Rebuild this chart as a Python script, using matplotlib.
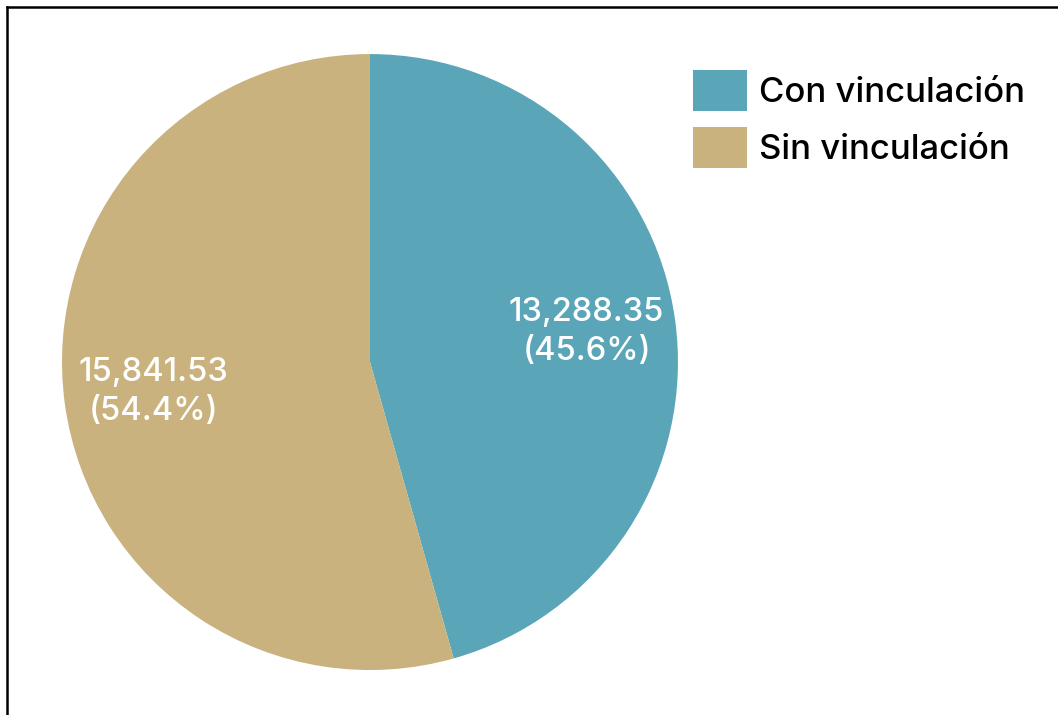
import matplotlib
matplotlib.use("Agg")
import matplotlib.pyplot as plt
from matplotlib.patches import Patch
from matplotlib.lines import Line2D

labels = ["Con vinculación", "Sin vinculación"]
values = [13288.35, 15841.53]
colors = ["#5ba5b8", "#c9b27e"]

plt.rcParams['font.family'] = ['Inter', 'DejaVu Sans']

fig = plt.figure(figsize=(10.58, 7.15), dpi=100)
ax = fig.add_axes([0.0586, 0.0629, 0.5822, 0.8615])

total = sum(values)

def fmt(pct):
    v = pct * total / 100
    return f"{v:,.2f}\n({pct:.1f}%)"

wedges, texts, autotexts = ax.pie(values, colors=colors, startangle=90, counterclock=False,
                                  autopct=fmt, pctdistance=0.71,
                                  wedgeprops=dict(linewidth=0))
for t in autotexts:
    t.set_color("white")
    t.set_fontsize(23.5)
    t.set_fontweight("medium")
    t.set_linespacing(1.35)
ax.set_xlim(-1, 1)
ax.set_ylim(-1, 1)
ax.set_aspect("equal")

handles = [Patch(facecolor=c, edgecolor='none') for c in colors]
leg = fig.legend(handles, labels, loc="upper left", bbox_to_anchor=(0.642, 0.922),
                 frameon=False, prop=dict(size=25, weight="medium"),
                 handlelength=1.55, handleheight=1.45,
                 handletextpad=0.35, labelspacing=0.45, borderaxespad=0)

# frame lines (top and left)
fig.add_artist(Line2D([0.0066, 1.0], [0.9902, 0.9902], color="black", linewidth=1.8, transform=fig.transFigure))
fig.add_artist(Line2D([0.0066, 0.0066], [0.0, 0.9902], color="black", linewidth=1.8, transform=fig.transFigure))

fig.savefig("out.png", dpi=100)
